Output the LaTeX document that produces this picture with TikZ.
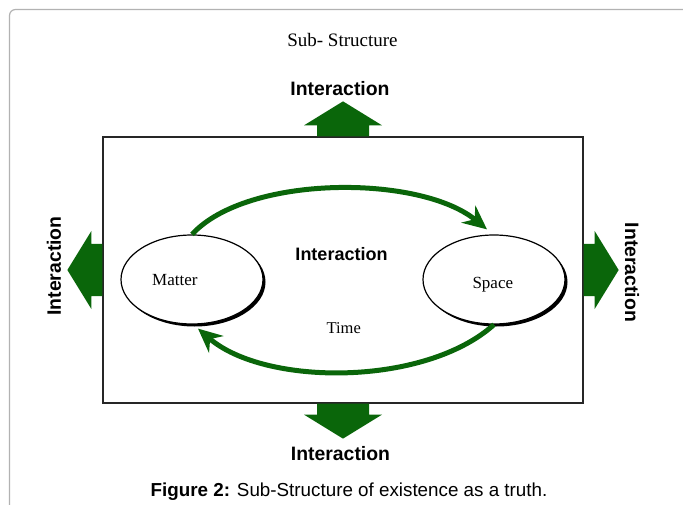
\documentclass[tikz,border=0pt]{standalone}
\usepackage{fontspec}
\setmainfont{Liberation Sans}
\newfontfamily\timesfont{Liberation Serif}
\usepackage{tikz}
\usetikzlibrary{shapes,arrows.meta,shadows}
\definecolor{darkgreen}{RGB}{10,102,10}
\tikzstyle{outerbox} = [rectangle, draw=black!85, line width=1.3pt, minimum width=480pt, minimum height=266pt, inner sep=0pt]
\tikzstyle{entity} = [ellipse, draw, line width=1.2pt, fill=white, minimum width=142pt, minimum height=89pt, inner sep=0pt, drop shadow={shadow xshift=2.5pt, shadow yshift=-2.5pt, opacity=1, fill=black}]
\tikzstyle{flow} = [draw=darkgreen, line width=5pt, -{Stealth[length=24pt,width=22pt,inset=8pt]}]
\tikzstyle{heading} = [font=\bfseries\fontsize{19.4}{22}\selectfont]
\tikzstyle{plainword} = [font=\timesfont\fontsize{17}{20}\selectfont, anchor=base]
\newcommand{\blockarrow}[2]{\fill[darkgreen, shift={(#1)}, rotate=#2] (-26,0) -- (-26,-11) -- (-39,-11) -- (0,-35) -- (39,-11) -- (26,-11) -- (26,0) -- cycle;}

\begin{document}
\begin{tikzpicture}[x=1pt, y=-1pt]
\useasboundingbox (0,0) rectangle (683,505);
% Page frame
\draw[black!30, line width=1.2pt, rounded corners=6pt] (683,9.5) -| (9.5,505);
% Sub-structure box
\node [outerbox] (box) at (343,270) {};
\node [plainword, font=\timesfont\fontsize{19}{22}\selectfont] (sub) at (342.5,46.7) {Sub- Structure};
% Interaction arrows out of the box
\blockarrow{box.north}{0}
\blockarrow{box.south}{180}
\blockarrow{box.west}{90}
\blockarrow{box.east}{-90}
\node [heading] (itop) at (340,89) {Interaction};
\node [heading] (ibottom) at (340.5,453.3) {Interaction};
\node [heading, rotate=90] (ileft) at (54,266) {Interaction};
\node [heading, rotate=-90] (iright) at (632,272.5) {Interaction};
% Matter and space
\node [entity] (matter) at (192,279.5) {};
\node [entity] (space) at (494,279.5) {};
\node [plainword] (mattertxt) at (174.8,286) {Matter};
\node [plainword] (spacetxt) at (492.8,288.3) {Space};
\node [heading, font=\bfseries\fontsize{18}{21}\selectfont] (imid) at (341.5,254) {Interaction};
\node [plainword, font=\timesfont\fontsize{16.5}{20}\selectfont] (time) at (343.7,334) {Time};
\draw [flow] (matter.north) .. controls +(55,-60) and +(-67,-55) .. ([shift={(-7,-5)}]space.north);
\draw [flow] (space.south) .. controls +(-69,62) and +(67,58) .. ([shift={(6,4)}]matter.south);
% Caption
\node [anchor=base] (caption) at (349,496.7) {\fontsize{18.8}{22}\selectfont\textbf{Figure 2:} Sub-Structure of existence as a truth.};
\end{tikzpicture}
\end{document}
